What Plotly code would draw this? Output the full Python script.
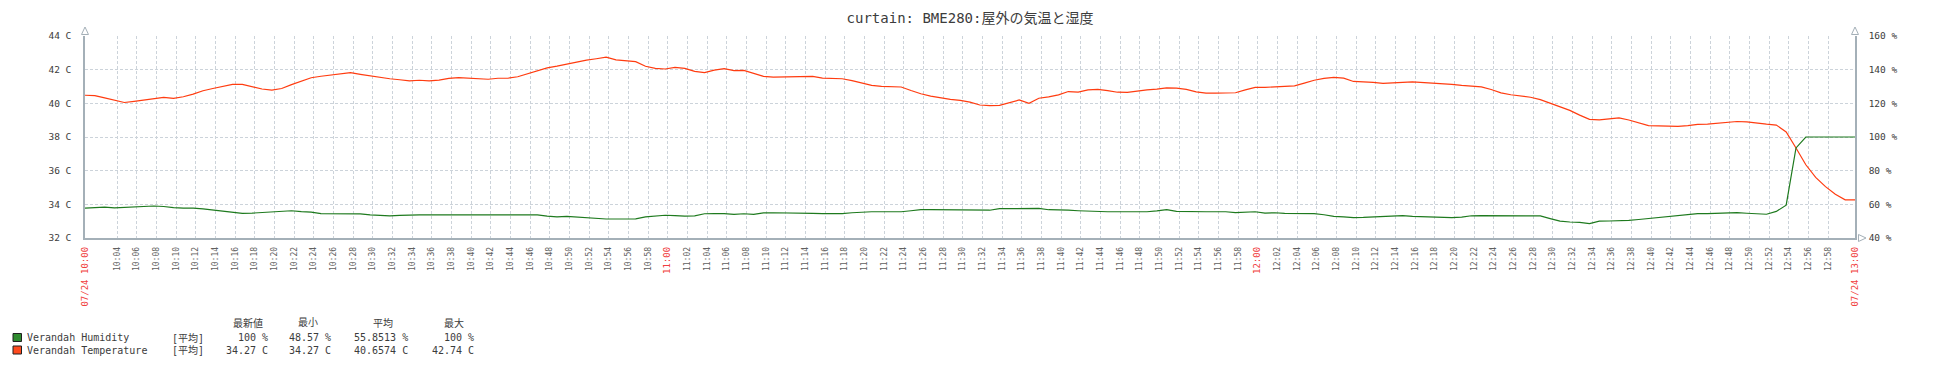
import plotly.graph_objects as go
from datetime import datetime, timedelta

# ---------------- data ----------------
# one sample per minute, starting 07/24 10:00:44
sample_start = "2024-07-24 10:00:44"
sample_step_min = 1

temperature_c = [
    40.48, 40.46, 40.32, 40.18, 40.05, 40.12, 40.20, 40.27, 40.35, 40.30,
    40.39, 40.55, 40.75, 40.88, 41.00, 41.13, 41.13, 40.97, 40.85, 40.79,
    40.88, 41.11, 41.30, 41.52, 41.61, 41.68, 41.76, 41.82, 41.72, 41.63,
    41.51, 41.46, 41.40, 41.34, 41.37, 41.34, 41.38, 41.48, 41.53, 41.50,
    41.43, 41.43, 41.49, 41.49, 41.58, 41.76, 41.97, 42.11, 42.21, 42.33,
    42.46, 42.57, 42.65, 42.74, 42.58, 42.53, 42.48, 42.20, 42.08, 42.04,
    42.14, 42.08, 41.90, 41.83, 41.97, 42.06, 41.94, 41.96, 41.79, 41.60,
    41.56, 41.57, 41.60, 41.60, 41.60, 41.50, 41.49, 41.46, 41.35, 41.20,
    41.07, 41.01, 41.01, 40.97, 40.76, 40.57, 40.43, 40.33, 40.24, 40.18,
    40.07, 39.90, 39.86, 39.88, 40.02, 40.20, 40.00, 40.30, 40.38, 40.50,
    40.70, 40.67, 40.80, 40.83, 40.76, 40.66, 40.65, 40.74, 40.80, 40.84,
    40.92, 40.90, 40.83, 40.68, 40.61, 40.61, 40.61, 40.63, 40.80, 40.95,
    40.95, 40.98, 41.01, 41.04, 41.20, 41.37, 41.48, 41.54, 41.50, 41.30,
    41.27, 41.25, 41.18, 41.19, 41.24, 41.27, 41.24, 41.21, 41.19, 41.13,
    41.07, 41.03, 40.98, 40.82, 40.62, 40.51, 40.45, 40.36, 40.22, 40.02,
    39.80, 39.58, 39.30, 39.05, 39.02, 39.07, 39.13, 39.01, 38.86, 38.68,
    38.66, 38.63, 38.63, 38.68, 38.75, 38.77, 38.82, 38.87, 38.92, 38.90,
    38.82, 38.76, 38.71, 38.30, 37.35, 36.35, 35.60, 35.05, 34.60, 34.27,
    34.27,
]

humidity_pct = [
    57.8, 58.1, 58.3, 57.9, 58.2, 58.6, 58.8, 59.0, 58.7, 58.0,
    57.8, 57.8, 57.3, 56.7, 56.2, 55.6, 54.6, 54.8, 55.1, 55.6,
    55.9, 56.2, 55.7, 55.4, 54.5, 54.4, 54.3, 54.3, 54.3, 53.7,
    53.4, 53.1, 53.4, 53.7, 53.7, 53.7, 53.7, 53.7, 53.4, 53.4,
    53.7, 53.7, 53.7, 53.7, 53.7, 53.7, 53.7, 53.0, 52.6, 52.9,
    52.5, 52.0, 51.6, 51.3, 51.3, 51.3, 51.4, 52.5, 53.0, 53.5,
    53.3, 53.0, 53.2, 54.4, 54.5, 54.5, 54.0, 54.4, 54.0, 54.9,
    55.0, 55.0, 55.0, 55.0, 54.6, 54.5, 54.5, 54.5, 55.0, 55.5,
    55.6, 55.6, 55.6, 55.6, 56.2, 56.8, 56.8, 56.8, 56.8, 56.8,
    56.8, 56.8, 56.5, 57.4, 57.4, 57.5, 57.5, 57.6, 56.8, 56.8,
    56.5, 56.2, 55.9, 55.6, 55.6, 55.6, 55.6, 55.6, 55.6, 56.1,
    56.8, 55.8, 55.6, 55.6, 55.6, 55.6, 55.6, 55.1, 55.4, 55.6,
    54.8, 55.0, 54.6, 54.5, 54.5, 54.5, 53.8, 52.9, 52.5, 52.1,
    52.2, 52.5, 52.9, 53.3, 53.3, 52.8, 52.6, 52.5, 52.4, 52.1,
    52.4, 53.2, 53.3, 53.3, 53.3, 53.3, 53.3, 53.3, 53.1, 51.5,
    50.0, 49.5, 49.3, 48.57, 50.0, 50.1, 50.1, 50.5, 51.0, 51.6,
    52.4, 53.0, 53.6, 54.3, 54.5, 54.5, 54.8, 55.2, 55.1, 54.7,
    54.2, 54.1, 55.8, 59.5, 93.5, 100.0, 100.0, 100.0, 100.0, 100.0,
    100.0,
]

series_names = ["Verandah Humidity", "Verandah Temperature"]
legend_tag = "[平均]"
stat_headers = ["最新値", "最小", "平均", "最大"]
humidity_stats = ["100 %", "48.57 %", "55.8513 %", "100 %"]
temperature_stats = ["34.27 C", "34.27 C", "40.6574 C", "42.74 C"]

title_text = "curtain: BME280:屋外の気温と湿度"
range_start = "2024-07-24 10:00:44"
range_end = "2024-07-24 13:00:44"
start_label = "07/24 10:00"
end_label = "07/24 13:00"

# ---------------- styles ----------------
W, H = 1941, 369
ML, MR, MT, MB = 85, 86, 36, 131
PW, PH = W - ML - MR, H - MT - MB
FONT = "DejaVu Sans Mono, Noto Sans CJK JP, monospace"
C_TEMP = "#ff3c10"
C_HUM = "#1e7a1e"
C_TEMP_BOX = "#ff4a1e"
C_HUM_BOX = "#2e8b2e"
C_GRID = "#ccd3da"
C_AXIS = "#a4b0b8"
C_TEXT = "#3c3c3c"
C_TICK = "#606060"
C_RED = "#f04040"


def px(x):
    return (x - ML) / PW


def py(y):
    return (MT + PH - y) / PH


t0 = datetime.strptime(sample_start, "%Y-%m-%d %H:%M:%S")
times = [t0 + timedelta(minutes=i * sample_step_min) for i in range(len(temperature_c))]

# ---------------- x ticks ----------------
rs = datetime.strptime(range_start, "%Y-%m-%d %H:%M:%S")
re_ = datetime.strptime(range_end, "%Y-%m-%d %H:%M:%S")
tickvals, ticktext = [rs], [f'<span style="color:{C_RED};font-size:9px">{start_label}</span>']
tt = rs.replace(second=0) + timedelta(minutes=4)
while tt < re_ - timedelta(minutes=1):
    lab = tt.strftime("%H:%M")
    if tt.minute == 0:
        ticktext.append(f'<span style="color:{C_RED};font-size:9px">{lab}</span>')
    else:
        ticktext.append(lab)
    tickvals.append(tt)
    tt += timedelta(minutes=2)
tickvals.append(re_)
ticktext.append(f'<span style="color:{C_RED};font-size:9px">{end_label}</span>')

fig = go.Figure()
fig.add_trace(go.Scatter(x=times, y=humidity_pct, mode="lines", yaxis="y2",
                         line=dict(color=C_HUM, width=1.2), name=series_names[0]))
fig.add_trace(go.Scatter(x=times, y=temperature_c, mode="lines", yaxis="y",
                         line=dict(color=C_TEMP, width=1.2), name=series_names[1]))

fig.update_layout(
    width=W, height=H, margin=dict(l=ML, r=MR, t=MT, b=MB, pad=0),
    paper_bgcolor="white", plot_bgcolor="white", showlegend=False,
    font=dict(family=FONT, size=10, color=C_TEXT),
    title=dict(text=title_text, x=0.5, xref="paper", xanchor="center",
               y=1 - 18.5 / H, yanchor="middle", yref="container",
               font=dict(family=FONT, size=14, color=C_TEXT)),
    xaxis=dict(type="date", range=[rs, re_], tickmode="array", tickvals=tickvals,
               ticktext=ticktext, tickangle=-90, tickfont=dict(size=8, color=C_TICK),
               showgrid=True, gridcolor=C_GRID, griddash="3px,2px", gridwidth=1,
               showline=True, linecolor=C_AXIS, linewidth=1.5, zeroline=False,
               ticks="", ticklabelstandoff=4, fixedrange=True),
    yaxis=dict(range=[32, 44], dtick=2, tick0=32, ticksuffix=" C",
               tickfont=dict(size=9.5, color=C_TEXT), showgrid=True, gridcolor=C_GRID,
               griddash="3px,2px", showline=True, linecolor=C_AXIS, linewidth=1.5,
               zeroline=False, ticks="", ticklabelstandoff=10, fixedrange=True),
    yaxis2=dict(range=[40, 160], dtick=20, tick0=40, ticksuffix=" %", overlaying="y",
                side="right", tickfont=dict(size=9.5, color=C_TEXT), showgrid=False,
                showline=True, linecolor=C_AXIS, linewidth=1.5, zeroline=False,
                ticks="", ticklabelstandoff=10, fixedrange=True),
)

shapes = []


def tri(points):
    d = "M " + " L ".join(f"{px(a):.6f},{py(b):.6f}" for a, b in points) + " Z"
    return dict(type="path", path=d, xref="paper", yref="paper",
                line=dict(color=C_AXIS, width=1), fillcolor="white", layer="above")


shapes.append(tri([(ML, 27), (ML - 3.5, 34.5), (ML + 3.5, 34.5)]))
shapes.append(tri([(ML + PW, 27), (ML + PW - 3.5, 34.5), (ML + PW + 3.5, 34.5)]))
shapes.append(tri([(ML + PW + 11, MT + PH), (ML + PW + 3.5, MT + PH - 3.5),
                   (ML + PW + 3.5, MT + PH + 3.5)]))

# legend boxes
for i, col in enumerate([C_HUM_BOX, C_TEMP_BOX]):
    yc = 337.5 + i * 12.5
    shapes.append(dict(type="rect", xref="paper", yref="paper",
                       x0=px(13), x1=px(21.5), y0=py(yc + 4), y1=py(yc - 4),
                       fillcolor=col, line=dict(color="#202020", width=1)))
fig.update_layout(shapes=shapes)

ann = []


def add_text(x, y, text, anchor="left"):
    ann.append(dict(x=px(x), y=py(y), xref="paper", yref="paper", text=text,
                    showarrow=False, xanchor=anchor, yanchor="middle",
                    font=dict(family=FONT, size=10, color=C_TEXT)))


header_centers = [248, 308, 383, 454]
value_rights = [270, 333, 410, 476]
for h, xc in zip(stat_headers, header_centers):
    add_text(xc, 322.5, h, "center")
for i, (name, stats) in enumerate(zip(series_names, [humidity_stats, temperature_stats])):
    yc = 337.5 + i * 12.5
    add_text(25, yc, name)
    add_text(170, yc, legend_tag)
    for s, xr in zip(stats, value_rights):
        add_text(xr, yc, s, "right")
fig.update_layout(annotations=ann)

fig.write_html("out.html")
